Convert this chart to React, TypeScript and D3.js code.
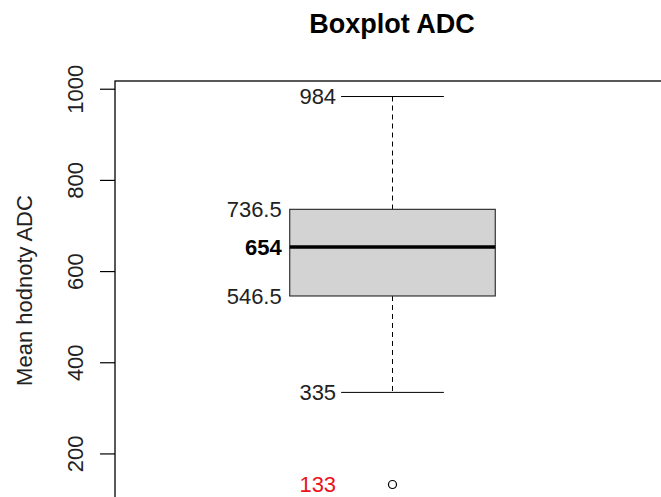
import React from "react";
import * as d3 from "d3";

const categories = ["ADC"];
const statNames = ["min", "q1", "median", "q3", "max"];
const statValues = [335, 546.5, 654, 736.5, 984];
const outliers = [133];
const yTicks = [200, 400, 600, 800, 1000];
const title = "Boxplot ADC";
const yLabel = "Mean hodnoty ADC";

const W = 661;
const H = 497;
const FONT = "'Liberation Sans', Arial, sans-serif";

export default function App() {
  const all = [...statValues, ...outliers];
  const lo = d3.min(all) as number;
  const hi = d3.max(all) as number;
  const pad = (hi - lo) * 0.04;
  const y = d3.scaleLinear().domain([lo - pad, hi + pad]).range([500, 81]);
  const x = d3.scaleLinear().domain([0.46, 1.54]).range([115, 670]);
  const s = Object.fromEntries(statNames.map((n, i) => [n, statValues[i]])) as Record<string, number>;
  const cx = x(1);
  const bL = x(1 - 0.2);
  const bR = x(1 + 0.2);
  const cL = x(1 - 0.1);
  const cR = x(1 + 0.1);
  const fs = 22;

  return (
    <svg width={W} height={H} style={{ position: "absolute", left: 0, top: 0, background: "#fff" }} fontFamily={FONT}>
      <rect x={0} y={0} width={W} height={H} fill="#fff" />
      <text x={392} y={33} textAnchor="middle" fontWeight="bold" fontSize={27}>{title}</text>
      {/* frame */}
      <rect x={x(0.46)} y={81} width={x(1.54) - x(0.46)} height={500 - 81} fill="none" stroke="#000" strokeWidth={1.3} />
      {/* y axis */}
      {yTicks.map((t) => (
        <g key={t}>
          <line x1={100} x2={115} y1={y(t)} y2={y(t)} stroke="#000" strokeWidth={1.2} />
          <text transform={`translate(83,${y(t)}) rotate(-90)`} textAnchor="middle" fontSize={fs} fill="#222">{t}</text>
        </g>
      ))}
      <text transform={`translate(32,${(81 + 500) / 2}) rotate(-90)`} textAnchor="middle" fontSize={fs} fill="#222">{yLabel}</text>
      {categories.map((c) => (
        <g key={c}>
          <line x1={cx} x2={cx} y1={y(s.max)} y2={y(s.q3)} stroke="#000" strokeDasharray="5,4" />
          <line x1={cx} x2={cx} y1={y(s.q1)} y2={y(s.min)} stroke="#000" strokeDasharray="5,4" />
          <line x1={cL} x2={cR} y1={y(s.max)} y2={y(s.max)} stroke="#000" />
          <line x1={cL} x2={cR} y1={y(s.min)} y2={y(s.min)} stroke="#000" />
          <rect x={bL} y={y(s.q3)} width={bR - bL} height={y(s.q1) - y(s.q3)} fill="#d3d3d3" stroke="#333" strokeWidth={1.2} />
          <line x1={bL} x2={bR} y1={y(s.median)} y2={y(s.median)} stroke="#000" strokeWidth={3.5} />
          {outliers.map((o) => (
            <circle key={o} cx={cx} cy={y(o)} r={4} fill="none" stroke="#000" strokeWidth={1.2} />
          ))}
          <text x={cL - 5} y={y(s.max)} dy="0.36em" textAnchor="end" fontSize={fs} fill="#222">{s.max}</text>
          <text x={cL - 5} y={y(s.min)} dy="0.36em" textAnchor="end" fontSize={fs} fill="#222">{s.min}</text>
          <text x={bL - 8} y={y(s.q3)} dy="0.36em" textAnchor="end" fontSize={fs} fill="#222">{s.q3}</text>
          <text x={bL - 8} y={y(s.q1)} dy="0.36em" textAnchor="end" fontSize={fs} fill="#222">{s.q1}</text>
          <text x={bL - 8} y={y(s.median)} dy="0.36em" textAnchor="end" fontSize={fs} fontWeight="bold" fill="#000">{s.median}</text>
          {outliers.map((o) => (
            <text key={o} x={cL - 5} y={y(o)} dy="0.36em" textAnchor="end" fontSize={fs} fill="#e8141c">{o}</text>
          ))}
        </g>
      ))}
    </svg>
  );
}
